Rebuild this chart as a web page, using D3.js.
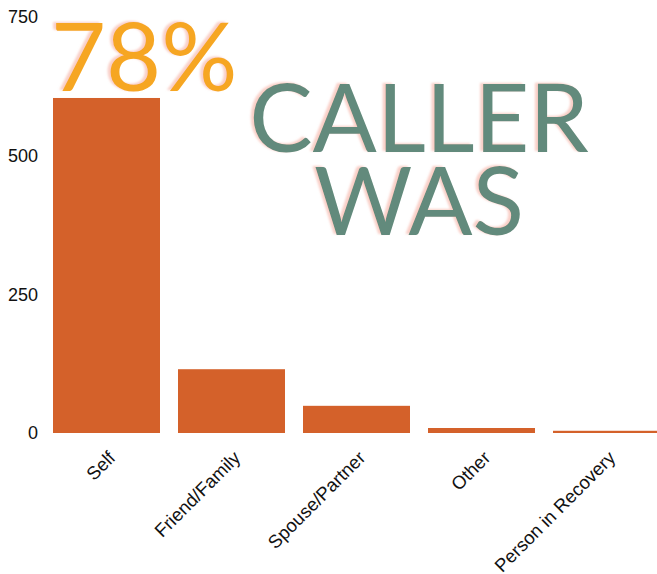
<!DOCTYPE html>
<html>
<head>
<meta charset="utf-8">
<script src="https://cdn.jsdelivr.net/npm/d3@7"></script>
<style>
  html, body { margin: 0; padding: 0; background: #fff; }
  svg { display: block; }
  .axis text { font-family: "Liberation Sans", Arial, sans-serif; fill: #111; }
  .headline { font-family: Lato, sans-serif; font-weight: 400; }
</style>
</head>
<body>
<svg id="chart" width="657" height="574"></svg>
<script>
// Who placed the call
const categories = ["Self", "Friend/Family", "Spouse/Partner", "Other", "Person in Recovery"];
const callCounts = [604, 115, 49, 9, 4];
const yTicks = [0, 250, 500, 750];
const headlineShare = "78%";
const headlineLines = ["CALLER", "WAS"];

const svg = d3.select("#chart");

const x = d3.scaleBand()
  .domain(categories)
  .range([44, 669])
  .paddingInner(0.144)
  .paddingOuter(0.072);

const y = d3.scaleLinear()
  .domain([0, 750])
  .range([433, 17]);

// soft pink drop shadow behind the headline text
const defs = svg.append("defs");
const f = defs.append("filter").attr("id", "pinkShadow")
  .attr("x", "-10%").attr("y", "-10%").attr("width", "120%").attr("height", "120%");
f.append("feDropShadow")
  .attr("dx", -3).attr("dy", -1).attr("stdDeviation", 1.2)
  .attr("flood-color", "#f4a89a").attr("flood-opacity", 0.55);

// bars
svg.append("g")
  .selectAll("rect")
  .data(categories.map((c, i) => ({ c, v: callCounts[i] })))
  .join("rect")
  .attr("x", d => x(d.c))
  .attr("width", x.bandwidth())
  .attr("y", d => y(d.v))
  .attr("height", d => y(0) - y(d.v))
  .attr("fill", "#d4612a");

// y axis: labels only
const yAxis = svg.append("g")
  .attr("class", "axis")
  .attr("transform", "translate(38,0)")
  .call(d3.axisLeft(y).tickValues(yTicks).tickSize(0).tickPadding(0));
yAxis.select(".domain").remove();
yAxis.selectAll("text").style("font-size", "18px");

// x axis: rotated labels
const xAxis = svg.append("g")
  .attr("class", "axis")
  .attr("transform", "translate(0,433)")
  .call(d3.axisBottom(x).tickSize(0).tickPadding(0));
xAxis.select(".domain").remove();
xAxis.selectAll("text")
  .style("font-size", "18.5px")
  .attr("text-anchor", "end")
  .attr("dy", null)
  .attr("y", 0)
  .attr("transform", "translate(10,26) rotate(-45)");

// headline
svg.append("text")
  .attr("class", "headline")
  .attr("x", 51)
  .attr("y", 91)
  .attr("font-size", 95)
  .attr("fill", "#f6a620")
  .attr("filter", "url(#pinkShadow)")
  .text(headlineShare);

svg.append("g")
  .selectAll("text")
  .data(headlineLines)
  .join("text")
  .attr("class", "headline")
  .attr("x", 419)
  .attr("y", (d, i) => 152 + i * 83)
  .attr("text-anchor", "middle")
  .attr("font-size", 95)
  .attr("fill", "#628a7b")
  .attr("filter", "url(#pinkShadow)")
  .text(d => d);
</script>
</body>
</html>
